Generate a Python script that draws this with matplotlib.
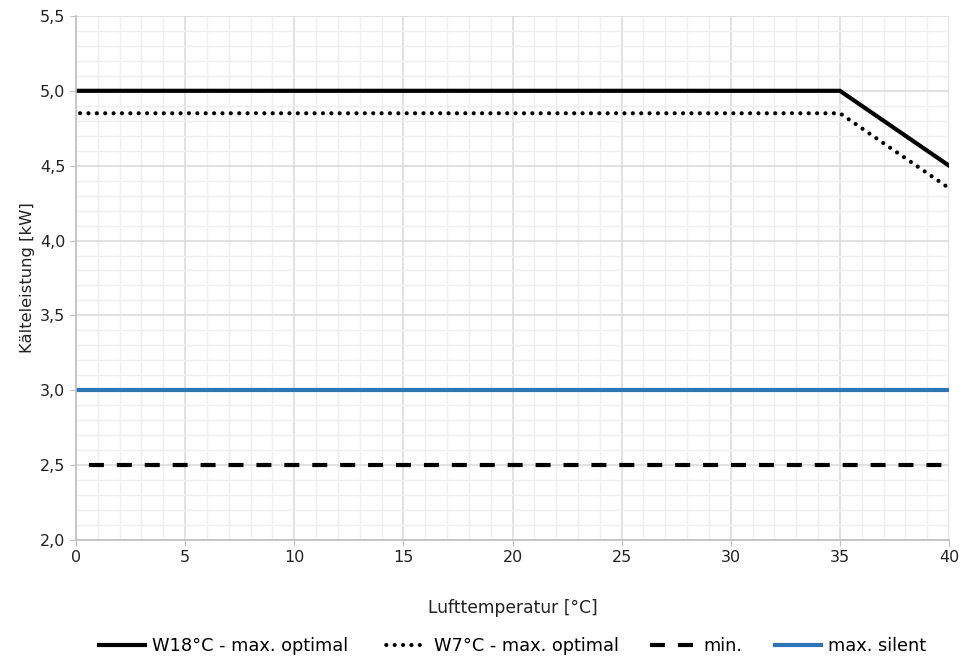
import numpy as np
import matplotlib
matplotlib.use("Agg")
import matplotlib.pyplot as plt
from matplotlib.ticker import MultipleLocator, FuncFormatter

# data
temp = [0, 35, 40]
w18_optimal = [5.0, 5.0, 4.5]
w7_optimal = [4.85, 4.85, 4.35]
temp_flat = [0, 40]
min_power = [2.5, 2.5]
max_silent = [3.0, 3.0]

labels = ["W18°C - max. optimal", "W7°C - max. optimal", "min.", "max. silent"]

plt.rcParams["font.family"] = ["DejaVu Sans"]
plt.rcParams["font.size"] = 11

fig = plt.figure(figsize=(9.79, 6.64), dpi=100)
ax = fig.add_axes([0.0776, 0.1867, 0.8918, 0.7893])

ax.plot(temp, w18_optimal, color="black", lw=3, label=labels[0], solid_joinstyle="miter")
ax.plot(temp, w7_optimal, color="black", lw=3, linestyle=(1.03, (0.01, 2.0)),
        dash_capstyle="round", label=labels[1])
ax.plot(temp_flat, min_power, color="black", lw=3, linestyle=(3.6, (3.6, 3.1)),
        label=labels[2])
ax.plot(temp_flat, max_silent, color="#2e75b6", lw=3, label=labels[3])

ax.set_xlim(0, 40)
ax.set_ylim(2.0, 5.5)
ax.xaxis.set_major_locator(MultipleLocator(5))
ax.xaxis.set_minor_locator(MultipleLocator(1))
ax.yaxis.set_major_locator(MultipleLocator(0.5))
ax.yaxis.set_minor_locator(MultipleLocator(0.1))
ax.yaxis.set_major_formatter(FuncFormatter(lambda v, p: f"{v:.1f}".replace(".", ",")))

ax.grid(which="major", color="#d9d9d9", lw=1.1)
ax.grid(which="minor", color="#efefef", lw=1.0)
ax.set_axisbelow(True)
for s in ["top", "right"]:
    ax.spines[s].set_visible(False)
for s in ["left", "bottom"]:
    ax.spines[s].set_color("#bfbfbf")
    ax.spines[s].set_linewidth(1.2)
ax.tick_params(which="major", length=4, color="#bfbfbf", labelsize=11.5)
ax.tick_params(which="minor", length=0)
ax.tick_params(axis="both", labelcolor="#222222")

ax.set_xlabel("Lufttemperatur [°C]", fontsize=12.3, labelpad=24, color="#222222")
ax.set_ylabel("Kälteleistung [kW]", fontsize=11.8, color="#222222")

leg = ax.legend(loc="upper center", bbox_to_anchor=(0.5, -0.155), ncol=4, frameon=False,
                fontsize=12.8, handlelength=2.6, columnspacing=1.8, handletextpad=0.4)
# legend dashes: start with a dash so two full dashes show
leg.get_lines()[1].set_linestyle((0.5, (0.01, 2.0)))
leg.get_lines()[2].set_linestyle((0, (3.6, 3.1)))

fig.savefig("out.png", dpi=100)
